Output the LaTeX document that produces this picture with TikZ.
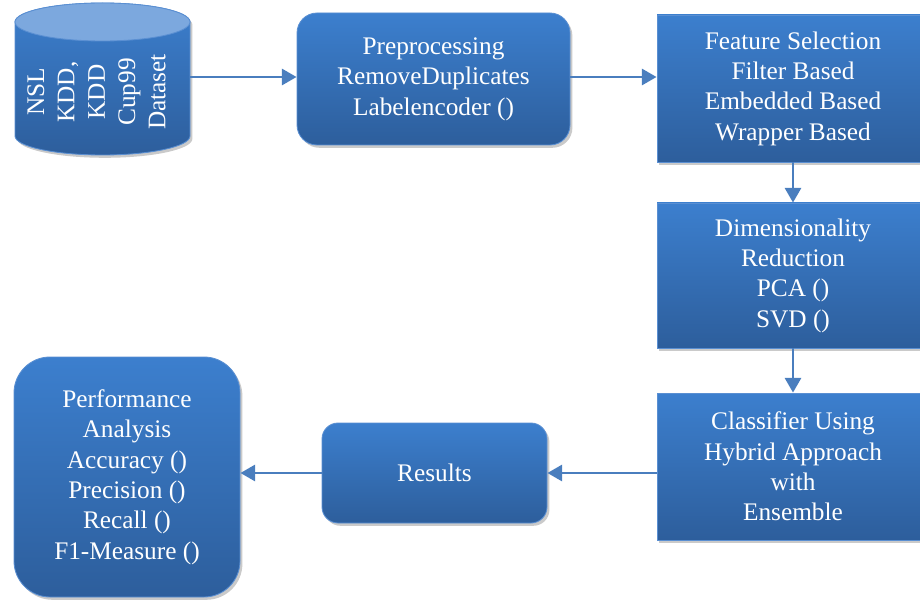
\documentclass[tikz,border=0pt]{standalone}
\usepackage{fontspec}
\setmainfont{Liberation Serif}
\usetikzlibrary{arrows.meta,shadows}

\definecolor{boxtop}{HTML}{3C7FCE}
\definecolor{boxbot}{HTML}{2D5E9C}
\definecolor{boxline}{HTML}{5A8FD2}
\definecolor{arrowblue}{HTML}{4A7EBE}
\definecolor{cyltop}{HTML}{7CA8DE}

\begin{document}
\begin{tikzpicture}[
    shade box/.style={draw=boxline, line width=0.6pt, top color=boxtop, bottom color=boxbot,
        drop shadow={shadow xshift=0.06cm, shadow yshift=-0.07cm, opacity=0.35, fill=black!60}},
    box/.style={shade box, text=white, align=center, inner sep=0pt,
        font=\rmfamily\fontsize{18}{21.6}\selectfont},
    arr/.style={draw=arrowblue, line width=1.9pt, -{Triangle[length=10.5pt,width=11.5pt]}}
]
    \useasboundingbox (0,0) rectangle (23,15);

    % dataset cylinder
    \path[shade box] (0.375,14.45) -- (0.375,11.6)
        arc[start angle=180, end angle=360, x radius=2.1875, y radius=0.475]
        -- (4.75,14.45)
        arc[start angle=0, end angle=180, x radius=2.1875, y radius=0.475] -- cycle;
    \path[draw=boxline, line width=0.6pt, fill=cyltop] (2.5625,14.45) ellipse[x radius=2.1875, y radius=0.475];
    \node[rotate=90, text=white, align=center, font=\rmfamily\fontsize{18}{21.6}\selectfont] at (2.4125,12.7) (data) {NSL\\KDD,\\KDD\\Cup99\\Dataset};
    \coordinate (dataout) at (4.75,13.075);

    \node[box, rounded corners=0.5cm, minimum width=6.825cm, minimum height=3.3cm] at (10.8375,13.025) (prep) {Preprocessing\\RemoveDuplicates\\Labelencoder ()};
    \node[box, minimum width=6.8cm, minimum height=3.675cm] at (19.825,12.7875) (feat) {Feature Selection\\Filter Based\\Embedded Based\\Wrapper Based};
    \node[box, minimum width=6.8cm, minimum height=3.625cm] at (19.825,8.1125) (dim) {Dimensionality\\Reduction\\PCA ()\\SVD ()};
    \node[box, minimum width=6.8cm, minimum height=3.675cm] at (19.825,3.3375) (clf) {Classifier Using\\Hybrid Approach\\with\\Ensemble};
    \node[box, rounded corners=0.4cm, minimum width=5.625cm, minimum height=2.5cm] at (10.8625,3.175) (res) {Results};
    \node[box, rounded corners=0.9cm, minimum width=5.65cm, minimum height=6cm] at (3.175,3.075) (perf) {Performance\\Analysis\\Accuracy ()\\Precision ()\\Recall ()\\F1-Measure ()};

    \path (dataout) edge[arr] (prep.west |- dataout);
    \path (prep.east |- dataout) edge[arr] (feat.west |- dataout);
    \path (feat.south) edge[arr] (dim.north);
    \path (dim.south) edge[arr] (clf.north);
    \path (clf.west |- res.east) edge[arr] (res.east);
    \path (res.west) edge[arr] (res.west -| perf.east);
\end{tikzpicture}
\end{document}
